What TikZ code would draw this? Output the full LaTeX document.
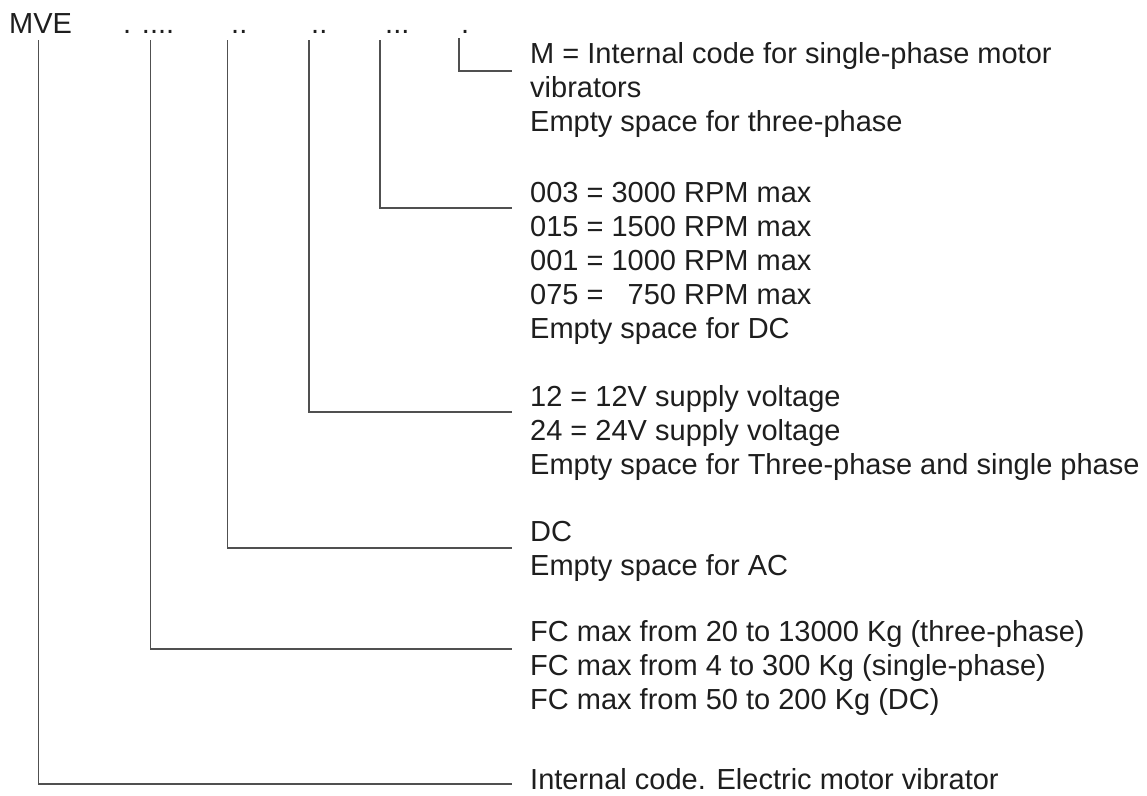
\documentclass[tikz,border=0pt]{standalone}
\usepackage{fontspec}
\setmainfont{Liberation Sans}
\definecolor{txt}{HTML}{1E1E1E}
\definecolor{ln}{HTML}{505050}
\begin{document}
\begin{tikzpicture}[x=1pt,y=-1pt,
  lbl/.style={anchor=base west,inner sep=0pt,font=\fontsize{29}{34}\selectfont,text=txt},
  conn/.style={draw=ln,line width=1.3pt}]
\useasboundingbox (0,0) rectangle (1147,795);
% header
\node[lbl] (mve) at (9,33) {MVE};
\node[lbl] (d2) at (123,33) {. ....};
\node[lbl] (d3) at (231,33) {..};
\node[lbl] (d4) at (311,33) {..};
\node[lbl] (d5) at (385,33) {...};
\node[lbl] (d6) at (461,33) {.};
% block 6
\node[lbl] (t6a) at (530,63) {M = Internal code for single-phase motor};
\node[lbl] (t6b) at (530,97) {vibrators};
\node[lbl] (t6c) at (530,131) {Empty space for three-phase};
% block 5
\node[lbl] (t5a) at (530,202) {003 = 3000 RPM max};
\node[lbl] (t5b) at (530,236) {015 = 1500 RPM max};
\node[lbl] (t5c) at (530,270) {001 = 1000 RPM max};
\node[lbl] (t5d) at (530,304) {075 = \ \ 750 RPM max};
\node[lbl] (t5e) at (530,338) {Empty space for DC};
% block 4
\node[lbl] (t4a) at (530,406) {12 = 12V supply voltage};
\node[lbl] (t4b) at (530,440) {24 = 24V supply voltage};
\node[lbl] (t4c) at (530,474) {Empty space for Three-phase and single phase};
% block 3
\node[lbl] (t3a) at (530,541) {DC};
\node[lbl] (t3b) at (530,575) {Empty space for AC};
% block 2
\node[lbl] (t2a) at (530,641) {FC max from 20 to 13000 Kg (three-phase)};
\node[lbl] (t2b) at (530,675) {FC max from 4 to 300 Kg (single-phase)};
\node[lbl] (t2c) at (530,709) {FC max from 50 to 200 Kg (DC)};
% block 1
\node[lbl] (t1a) at (530,789) {Internal code. Electric motor vibrator};
% connectors
\draw[conn] ([xshift=-2pt,yshift=-7pt]mve.south) |- ([xshift=-18pt,yshift=5pt]t1a.base west);
\draw[conn] ([xshift=1.5pt,yshift=-7pt]d2.south) |- ([xshift=-18pt,yshift=-8pt]t2a.base west);
\draw[conn] ([xshift=-3.5pt,yshift=-7pt]d3.south west) |- ([xshift=-18pt,yshift=-7pt]t3a.base west);
\draw[conn] ([xshift=-2pt,yshift=-7pt]d4.south west) |- ([xshift=-18pt,yshift=-6pt]t4a.base west);
\draw[conn] ([xshift=-5pt,yshift=-7pt]d5.south west) |- ([xshift=-18pt,yshift=-6pt]t5a.base west);
\draw[conn] ([xshift=-2pt,yshift=-5pt]d6.south west) |- ([xshift=-18pt,yshift=-8pt]t6a.base west);
\end{tikzpicture}
\end{document}
